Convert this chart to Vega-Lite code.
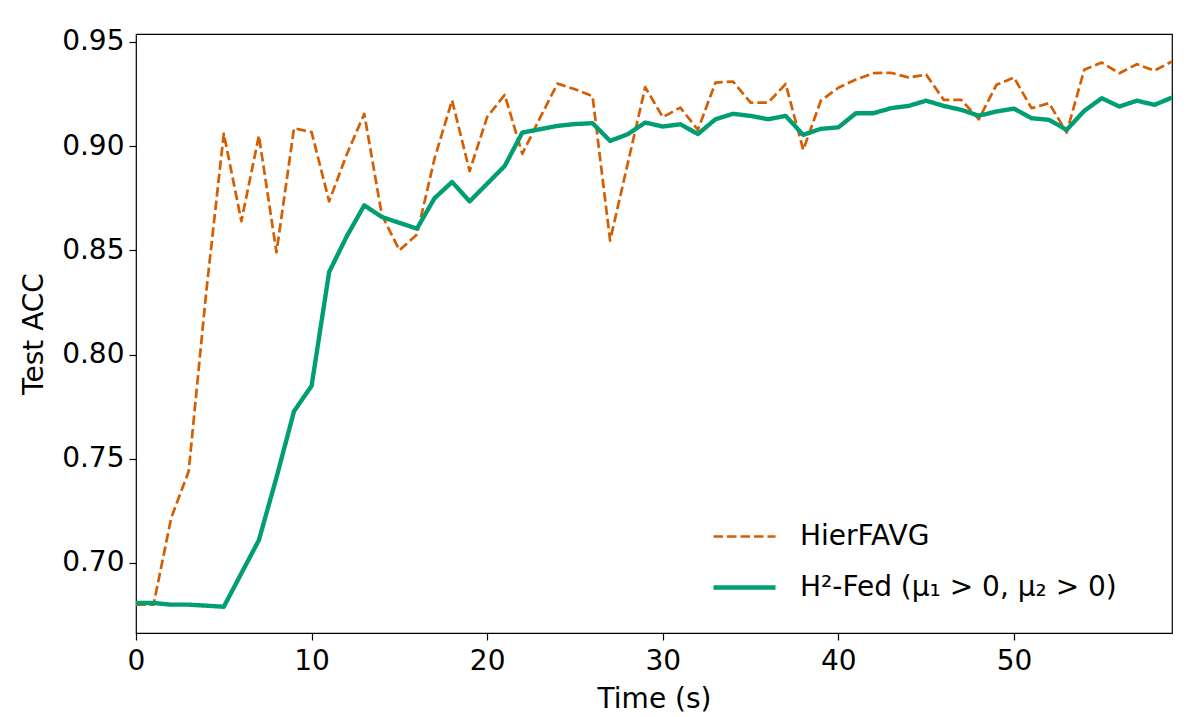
{
  "$schema": "https://vega.github.io/schema/vega-lite/v6.json",
  "width": 1036,
  "height": 599,
  "autosize": {"type": "none"},
  "padding": {"left": 136, "top": 34, "right": 24, "bottom": 84},
  "background": "white",
  "config": {
    "font": "DejaVu Sans",
    "view": {"stroke": "black", "strokeWidth": 1.2},
    "axis": {
      "domain": false,
      "grid": false,
      "ticks": true,
      "tickColor": "black",
      "tickSize": 7,
      "tickWidth": 1.2,
      "labelFlush": false,
      "labelOverlap": false,
      "labelFont": "DejaVu Sans",
      "labelFontSize": 28,
      "labelColor": "black",
      "labelPadding": 5,
      "titleFont": "DejaVu Sans",
      "titleFontSize": 28,
      "titleFontWeight": "normal",
      "titleColor": "black"
    },
    "legend": {
      "labelFont": "DejaVu Sans",
      "labelFontSize": 28,
      "labelColor": "black"
    }
  },
  "data": {
    "values": [
      {"t": 0, "s": "HierFAVG", "acc": 0.680},
      {"t": 1, "s": "HierFAVG", "acc": 0.680},
      {"t": 2, "s": "HierFAVG", "acc": 0.7215},
      {"t": 3, "s": "HierFAVG", "acc": 0.744},
      {"t": 4, "s": "HierFAVG", "acc": 0.830},
      {"t": 5, "s": "HierFAVG", "acc": 0.906},
      {"t": 6, "s": "HierFAVG", "acc": 0.864},
      {"t": 7, "s": "HierFAVG", "acc": 0.905},
      {"t": 8, "s": "HierFAVG", "acc": 0.849},
      {"t": 9, "s": "HierFAVG", "acc": 0.9086},
      {"t": 10, "s": "HierFAVG", "acc": 0.9067},
      {"t": 11, "s": "HierFAVG", "acc": 0.8735},
      {"t": 12, "s": "HierFAVG", "acc": 0.896},
      {"t": 13, "s": "HierFAVG", "acc": 0.9155},
      {"t": 14, "s": "HierFAVG", "acc": 0.867},
      {"t": 15, "s": "HierFAVG", "acc": 0.850},
      {"t": 16, "s": "HierFAVG", "acc": 0.8576},
      {"t": 17, "s": "HierFAVG", "acc": 0.894},
      {"t": 18, "s": "HierFAVG", "acc": 0.922},
      {"t": 19, "s": "HierFAVG", "acc": 0.888},
      {"t": 20, "s": "HierFAVG", "acc": 0.914},
      {"t": 21, "s": "HierFAVG", "acc": 0.9246},
      {"t": 22, "s": "HierFAVG", "acc": 0.8963},
      {"t": 23, "s": "HierFAVG", "acc": 0.9134},
      {"t": 24, "s": "HierFAVG", "acc": 0.930},
      {"t": 25, "s": "HierFAVG", "acc": 0.9273},
      {"t": 26, "s": "HierFAVG", "acc": 0.924},
      {"t": 27, "s": "HierFAVG", "acc": 0.8547},
      {"t": 28, "s": "HierFAVG", "acc": 0.8915},
      {"t": 29, "s": "HierFAVG", "acc": 0.9283},
      {"t": 30, "s": "HierFAVG", "acc": 0.9139},
      {"t": 31, "s": "HierFAVG", "acc": 0.9185},
      {"t": 32, "s": "HierFAVG", "acc": 0.9078},
      {"t": 33, "s": "HierFAVG", "acc": 0.9305},
      {"t": 34, "s": "HierFAVG", "acc": 0.931},
      {"t": 35, "s": "HierFAVG", "acc": 0.9209},
      {"t": 36, "s": "HierFAVG", "acc": 0.9209},
      {"t": 37, "s": "HierFAVG", "acc": 0.9298},
      {"t": 38, "s": "HierFAVG", "acc": 0.8982},
      {"t": 39, "s": "HierFAVG", "acc": 0.9218},
      {"t": 40, "s": "HierFAVG", "acc": 0.928},
      {"t": 41, "s": "HierFAVG", "acc": 0.932},
      {"t": 42, "s": "HierFAVG", "acc": 0.935},
      {"t": 43, "s": "HierFAVG", "acc": 0.9352},
      {"t": 44, "s": "HierFAVG", "acc": 0.9329},
      {"t": 45, "s": "HierFAVG", "acc": 0.9343},
      {"t": 46, "s": "HierFAVG", "acc": 0.9222},
      {"t": 47, "s": "HierFAVG", "acc": 0.9222},
      {"t": 48, "s": "HierFAVG", "acc": 0.9129},
      {"t": 49, "s": "HierFAVG", "acc": 0.9294},
      {"t": 50, "s": "HierFAVG", "acc": 0.9329},
      {"t": 51, "s": "HierFAVG", "acc": 0.9182},
      {"t": 52, "s": "HierFAVG", "acc": 0.9206},
      {"t": 53, "s": "HierFAVG", "acc": 0.9065},
      {"t": 54, "s": "HierFAVG", "acc": 0.9366},
      {"t": 55, "s": "HierFAVG", "acc": 0.9401},
      {"t": 56, "s": "HierFAVG", "acc": 0.935},
      {"t": 57, "s": "HierFAVG", "acc": 0.9393},
      {"t": 58, "s": "HierFAVG", "acc": 0.9362},
      {"t": 59, "s": "HierFAVG", "acc": 0.9406},
      {"t": 0, "s": "H²-Fed (μ₁ > 0, μ₂ > 0)", "acc": 0.6808},
      {"t": 1, "s": "H²-Fed (μ₁ > 0, μ₂ > 0)", "acc": 0.6808},
      {"t": 2, "s": "H²-Fed (μ₁ > 0, μ₂ > 0)", "acc": 0.680},
      {"t": 3, "s": "H²-Fed (μ₁ > 0, μ₂ > 0)", "acc": 0.680},
      {"t": 4, "s": "H²-Fed (μ₁ > 0, μ₂ > 0)", "acc": 0.6795},
      {"t": 5, "s": "H²-Fed (μ₁ > 0, μ₂ > 0)", "acc": 0.679},
      {"t": 6, "s": "H²-Fed (μ₁ > 0, μ₂ > 0)", "acc": 0.695},
      {"t": 7, "s": "H²-Fed (μ₁ > 0, μ₂ > 0)", "acc": 0.711},
      {"t": 8, "s": "H²-Fed (μ₁ > 0, μ₂ > 0)", "acc": 0.741},
      {"t": 9, "s": "H²-Fed (μ₁ > 0, μ₂ > 0)", "acc": 0.7728},
      {"t": 10, "s": "H²-Fed (μ₁ > 0, μ₂ > 0)", "acc": 0.785},
      {"t": 11, "s": "H²-Fed (μ₁ > 0, μ₂ > 0)", "acc": 0.8396},
      {"t": 12, "s": "H²-Fed (μ₁ > 0, μ₂ > 0)", "acc": 0.8567},
      {"t": 13, "s": "H²-Fed (μ₁ > 0, μ₂ > 0)", "acc": 0.8716},
      {"t": 14, "s": "H²-Fed (μ₁ > 0, μ₂ > 0)", "acc": 0.866},
      {"t": 15, "s": "H²-Fed (μ₁ > 0, μ₂ > 0)", "acc": 0.8632},
      {"t": 16, "s": "H²-Fed (μ₁ > 0, μ₂ > 0)", "acc": 0.8604},
      {"t": 17, "s": "H²-Fed (μ₁ > 0, μ₂ > 0)", "acc": 0.875},
      {"t": 18, "s": "H²-Fed (μ₁ > 0, μ₂ > 0)", "acc": 0.8828},
      {"t": 19, "s": "H²-Fed (μ₁ > 0, μ₂ > 0)", "acc": 0.8735},
      {"t": 20, "s": "H²-Fed (μ₁ > 0, μ₂ > 0)", "acc": 0.882},
      {"t": 21, "s": "H²-Fed (μ₁ > 0, μ₂ > 0)", "acc": 0.8905},
      {"t": 22, "s": "H²-Fed (μ₁ > 0, μ₂ > 0)", "acc": 0.9065},
      {"t": 23, "s": "H²-Fed (μ₁ > 0, μ₂ > 0)", "acc": 0.9081},
      {"t": 24, "s": "H²-Fed (μ₁ > 0, μ₂ > 0)", "acc": 0.9097},
      {"t": 25, "s": "H²-Fed (μ₁ > 0, μ₂ > 0)", "acc": 0.9106},
      {"t": 26, "s": "H²-Fed (μ₁ > 0, μ₂ > 0)", "acc": 0.911},
      {"t": 27, "s": "H²-Fed (μ₁ > 0, μ₂ > 0)", "acc": 0.9025},
      {"t": 28, "s": "H²-Fed (μ₁ > 0, μ₂ > 0)", "acc": 0.9057},
      {"t": 29, "s": "H²-Fed (μ₁ > 0, μ₂ > 0)", "acc": 0.9113},
      {"t": 30, "s": "H²-Fed (μ₁ > 0, μ₂ > 0)", "acc": 0.9094},
      {"t": 31, "s": "H²-Fed (μ₁ > 0, μ₂ > 0)", "acc": 0.9105},
      {"t": 32, "s": "H²-Fed (μ₁ > 0, μ₂ > 0)", "acc": 0.9058},
      {"t": 33, "s": "H²-Fed (μ₁ > 0, μ₂ > 0)", "acc": 0.9129},
      {"t": 34, "s": "H²-Fed (μ₁ > 0, μ₂ > 0)", "acc": 0.9155},
      {"t": 35, "s": "H²-Fed (μ₁ > 0, μ₂ > 0)", "acc": 0.9145},
      {"t": 36, "s": "H²-Fed (μ₁ > 0, μ₂ > 0)", "acc": 0.9129},
      {"t": 37, "s": "H²-Fed (μ₁ > 0, μ₂ > 0)", "acc": 0.9145},
      {"t": 38, "s": "H²-Fed (μ₁ > 0, μ₂ > 0)", "acc": 0.9054},
      {"t": 39, "s": "H²-Fed (μ₁ > 0, μ₂ > 0)", "acc": 0.9083},
      {"t": 40, "s": "H²-Fed (μ₁ > 0, μ₂ > 0)", "acc": 0.909},
      {"t": 41, "s": "H²-Fed (μ₁ > 0, μ₂ > 0)", "acc": 0.9158},
      {"t": 42, "s": "H²-Fed (μ₁ > 0, μ₂ > 0)", "acc": 0.9158},
      {"t": 43, "s": "H²-Fed (μ₁ > 0, μ₂ > 0)", "acc": 0.9182},
      {"t": 44, "s": "H²-Fed (μ₁ > 0, μ₂ > 0)", "acc": 0.9193},
      {"t": 45, "s": "H²-Fed (μ₁ > 0, μ₂ > 0)", "acc": 0.9218},
      {"t": 46, "s": "H²-Fed (μ₁ > 0, μ₂ > 0)", "acc": 0.9193},
      {"t": 47, "s": "H²-Fed (μ₁ > 0, μ₂ > 0)", "acc": 0.9174},
      {"t": 48, "s": "H²-Fed (μ₁ > 0, μ₂ > 0)", "acc": 0.9146},
      {"t": 49, "s": "H²-Fed (μ₁ > 0, μ₂ > 0)", "acc": 0.9166},
      {"t": 50, "s": "H²-Fed (μ₁ > 0, μ₂ > 0)", "acc": 0.918},
      {"t": 51, "s": "H²-Fed (μ₁ > 0, μ₂ > 0)", "acc": 0.9134},
      {"t": 52, "s": "H²-Fed (μ₁ > 0, μ₂ > 0)", "acc": 0.9126},
      {"t": 53, "s": "H²-Fed (μ₁ > 0, μ₂ > 0)", "acc": 0.9078},
      {"t": 54, "s": "H²-Fed (μ₁ > 0, μ₂ > 0)", "acc": 0.9169},
      {"t": 55, "s": "H²-Fed (μ₁ > 0, μ₂ > 0)", "acc": 0.923},
      {"t": 56, "s": "H²-Fed (μ₁ > 0, μ₂ > 0)", "acc": 0.919},
      {"t": 57, "s": "H²-Fed (μ₁ > 0, μ₂ > 0)", "acc": 0.9218},
      {"t": 58, "s": "H²-Fed (μ₁ > 0, μ₂ > 0)", "acc": 0.9198},
      {"t": 59, "s": "H²-Fed (μ₁ > 0, μ₂ > 0)", "acc": 0.9233}
    ]
  },
  "mark": {"type": "line", "strokeJoin": "round", "strokeCap": "butt"},
  "encoding": {
    "x": {
      "field": "t",
      "type": "quantitative",
      "scale": {"domain": [0, 59], "nice": false, "zero": false},
      "axis": {"values": [0, 10, 20, 30, 40, 50], "format": "d", "title": "Time (s)", "titlePadding": 10, "labelPadding": 7}
    },
    "y": {
      "field": "acc",
      "type": "quantitative",
      "scale": {"domain": [0.6664, 0.9538], "nice": false, "zero": false},
      "axis": {"values": [0.70, 0.75, 0.80, 0.85, 0.90, 0.95], "format": ".2f", "title": "Test ACC", "titlePadding": 13}
    },
    "color": {
      "field": "s",
      "type": "nominal",
      "scale": {"domain": ["HierFAVG", "H²-Fed (μ₁ > 0, μ₂ > 0)"], "range": ["#d55e00", "#029e73"]},
      "legend": {
        "title": null,
        "orient": "none",
        "legendX": 575,
        "legendY": 470,
        "padding": 0,
        "symbolType": "stroke",
        "symbolSize": 3844,
        "symbolStrokeWidth": 3.5,
        "rowPadding": 3,
        "labelOffset": 22,
        "labelLimit": 0,
        "labelFontSize": 28
      }
    },
    "strokeDash": {
      "field": "s",
      "type": "nominal",
      "scale": {"domain": ["HierFAVG", "H²-Fed (μ₁ > 0, μ₂ > 0)"], "range": [[9.5, 4], [1, 0]]}
    },
    "strokeWidth": {
      "field": "s",
      "type": "ordinal",
      "scale": {"domain": ["HierFAVG", "H²-Fed (μ₁ > 0, μ₂ > 0)"], "range": [2.7, 4.4]},
      "legend": null
    }
  }
}
